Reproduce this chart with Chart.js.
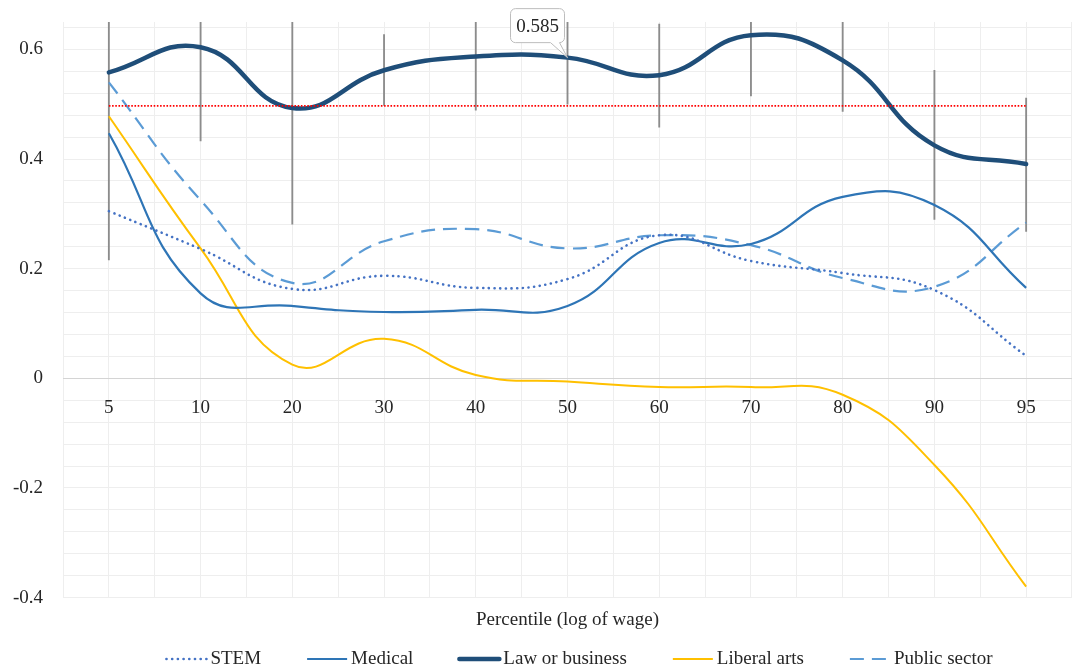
<!DOCTYPE html>
<html>
<head>
<meta charset="utf-8">
<title>Percentile effects by field of study</title>
<script src="https://cdn.jsdelivr.net/npm/chart.js@4/dist/chart.umd.min.js"></script>
<style>
  html, body { margin: 0; padding: 0; background: #ffffff; }
  #chart { display: block; }
</style>
</head>
<body>
<canvas id="chart" width="1072" height="669"></canvas>
<script>
// Wage percentiles (categories on the x axis)
const percentiles = ['5', '10', '20', '30', '40', '50', '60', '70', '80', '90', '95'];

// Estimated coefficients by field of study
const stem         = [0.305, 0.236, 0.163, 0.187, 0.165, 0.181, 0.261, 0.214, 0.192, 0.161, 0.041];
const medical      = [0.447, 0.155, 0.132, 0.121, 0.125, 0.132, 0.247, 0.245, 0.331, 0.316, 0.165];
const lawBusiness  = [0.558, 0.604, 0.493, 0.562, 0.587, 0.585, 0.553, 0.626, 0.580, 0.425, 0.391];
const liberalArts  = [0.478, 0.237, 0.025, 0.072, 0.006, -0.006, -0.016, -0.016, -0.030, -0.158, -0.380];
const publicSector = [0.540, 0.325, 0.174, 0.250, 0.272, 0.237, 0.261, 0.243, 0.183, 0.167, 0.284];

// Confidence interval for Law or business
const lawLower = [0.216, 0.433, 0.281, 0.498, 0.489, 0.500, 0.458, 0.515, 0.487, 0.290, 0.268];
const lawUpper = [0.900, 0.775, 0.705, 0.627, 0.685, 0.670, 0.646, 0.737, 0.673, 0.562, 0.511];

// Reference level drawn as a red dotted line
const benchmark = 0.497;

// Value axis
const yMin = -0.4;
const yMax = 0.65;
const yStep = 0.04;
const yLabelStep = 0.2;

const FONT = "'Liberation Serif', 'DejaVu Serif', serif";
const TEXT = '#262626';
const GRID = '#eeeeee';
const AXIS = '#d4d4d4';

Chart.defaults.font.family = FONT;
Chart.defaults.font.size = 19;
Chart.defaults.color = TEXT;

function isLabelTick(v) {
  const r = v / yLabelStep;
  return Math.abs(r - Math.round(r)) < 1e-6;
}

// Rounded callout with a pointer at the 50th percentile of Law or business
const calloutPlugin = {
  id: 'callout',
  afterDatasetsDraw(chart) {
    const idx = chart.data.datasets.findIndex(d => d.label === 'Law or business');
    const k = percentiles.indexOf('50');
    const pt = chart.getDatasetMeta(idx).data[k];
    if (!pt) return;
    const ctx = chart.ctx;
    const w = 54, h = 34, r = 5;
    const right = pt.x - 3, left = right - w;
    const bottom = pt.y - 15, top = bottom - h;
    ctx.save();
    ctx.beginPath();
    ctx.moveTo(left + r, top);
    ctx.lineTo(right - r, top);
    ctx.arcTo(right, top, right, top + r, r);
    ctx.lineTo(right, bottom - r);
    ctx.arcTo(right, bottom, right - r, bottom, r);
    ctx.lineTo(pt.x, pt.y);
    ctx.lineTo(right - 14, bottom);
    ctx.lineTo(left + r, bottom);
    ctx.arcTo(left, bottom, left, bottom - r, r);
    ctx.lineTo(left, top + r);
    ctx.arcTo(left, top, left + r, top, r);
    ctx.closePath();
    ctx.fillStyle = '#ffffff';
    ctx.fill();
    ctx.strokeStyle = '#bdbdbd';
    ctx.lineWidth = 1;
    ctx.stroke();
    ctx.fillStyle = TEXT;
    ctx.font = '19px ' + FONT;
    ctx.textAlign = 'center';
    ctx.textBaseline = 'middle';
    ctx.fillText(lawBusiness[k].toFixed(3), (left + right) / 2, (top + bottom) / 2 + 1);
    ctx.restore();
  }
};

// Legend with line samples that keep each series' dash pattern
const lineLegendPlugin = {
  id: 'lineLegend',
  afterDraw(chart) {
    const ctx = chart.ctx;
    const area = chart.chartArea;
    const items = chart.data.datasets.filter(d => d.inLegend);
    const sample = 40, gapText = 4, gapItem = 46;
    ctx.save();
    ctx.font = '19px ' + FONT;
    const widths = items.map(d => sample + gapText + ctx.measureText(d.label).width);
    const total = widths.reduce((a, b) => a + b, 0) + gapItem * (items.length - 1);
    let x = (area.left + area.right) / 2 + 12 - total / 2;
    const y = chart.height - 10;
    items.forEach((d, i) => {
      ctx.beginPath();
      ctx.setLineDash(d.borderDash || []);
      ctx.lineWidth = d.borderWidth;
      ctx.lineCap = d.borderCapStyle || 'butt';
      ctx.strokeStyle = d.borderColor;
      ctx.moveTo(x, y);
      ctx.lineTo(x + sample, y);
      ctx.stroke();
      ctx.setLineDash([]);
      ctx.fillStyle = TEXT;
      ctx.textAlign = 'left';
      ctx.textBaseline = 'middle';
      ctx.fillText(d.label, x + sample + gapText, y);
      x += widths[i] + gapItem;
    });
    ctx.restore();
  }
};

new Chart(document.getElementById('chart'), {
  data: {
    labels: percentiles,
    datasets: [
      { type: 'line', label: 'STEM', data: stem, borderColor: '#4472c4', borderWidth: 2.6,
        borderDash: [0.1, 5.6], borderCapStyle: 'round', inLegend: true, order: 2 },
      { type: 'line', label: 'Medical', data: medical, borderColor: '#2e75b6', borderWidth: 2.2,
        inLegend: true, order: 2 },
      { type: 'line', label: 'Law or business', data: lawBusiness, borderColor: '#1f4e79', borderWidth: 4.5,
        borderCapStyle: 'round', inLegend: true, order: 1 },
      { type: 'line', label: 'Liberal arts', data: liberalArts, borderColor: '#ffc000', borderWidth: 2,
        inLegend: true, order: 2 },
      { type: 'line', label: 'Public sector', data: publicSector, borderColor: '#5b9bd5', borderWidth: 2.2,
        borderDash: [14, 8], inLegend: true, order: 2 },
      { type: 'line', label: 'Benchmark', data: percentiles.map(() => benchmark), borderColor: '#ff0000',
        borderWidth: 1.6, borderDash: [1.6, 1.6], tension: 0, order: 0 },
      { type: 'bar', label: 'Law or business interval', data: percentiles.map((_, i) => [lawLower[i], lawUpper[i]]),
        backgroundColor: '#8c8c8c', barThickness: 1.2, order: 5, clip: 0 }
    ]
  },
  options: {
    responsive: false,
    animation: false,
    devicePixelRatio: 1,
    layout: { padding: { top: 22, right: -5, bottom: 37.6, left: 0 } },
    elements: {
      line: { tension: 0.45, fill: false },
      point: { radius: 0, hoverRadius: 0 }
    },
    plugins: {
      legend: { display: false },
      tooltip: { enabled: false }
    },
    scales: {
      x: {
        type: 'category',
        offset: true,
        position: { y: 0 },
        grid: { offset: false, color: GRID, drawTicks: false },
        border: { display: true, color: AXIS },
        ticks: { padding: 18, color: TEXT, maxRotation: 0, autoSkip: false }
      },
      x2: {
        type: 'category',
        labels: percentiles,
        offset: true,
        position: 'bottom',
        grid: { offset: true, color: GRID, drawTicks: false },
        border: { display: false },
        ticks: { display: false },
        title: { display: true, text: 'Percentile (log of wage)', color: TEXT,
                 padding: { top: 11, bottom: 0 } }
      },
      y: {
        type: 'linear',
        min: yMin,
        max: yMax,
        position: 'left',
        border: { display: false },
        grid: {
          drawTicks: false,
          color: c => (Math.abs(c.tick.value) < 1e-9 ? AXIS : GRID)
        },
        ticks: {
          stepSize: yStep,
          includeBounds: false,
          autoSkip: false,
          maxTicksLimit: 100,
          padding: 20,
          color: TEXT,
          callback: v => (isLabelTick(v) ? String(Math.round(v * 10) / 10) : '')
        },
        afterFit: s => {
          s.width = 63;
          s.paddingTop = 0;
          s.paddingBottom = 0;
        }
      }
    }
  },
  plugins: [calloutPlugin, lineLegendPlugin]
});
</script>
</body>
</html>
